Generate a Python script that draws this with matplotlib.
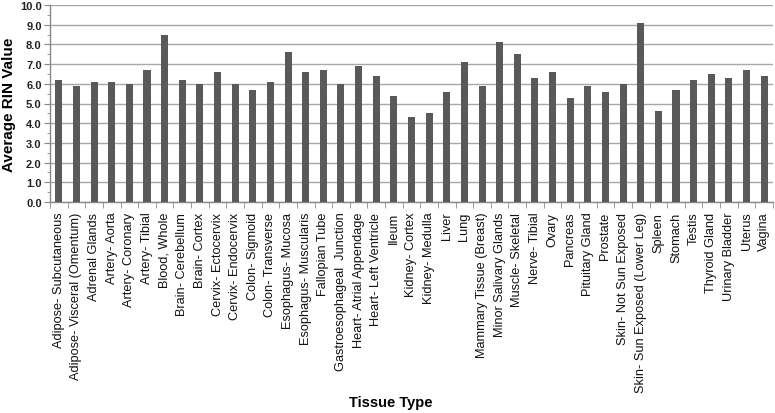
import matplotlib
matplotlib.use("Agg")
import matplotlib.pyplot as plt
from matplotlib.ticker import MultipleLocator, FixedLocator, NullFormatter
import numpy as np

tissues = [
    "Adipose- Subcutaneous", "Adipose- Visceral (Omentum)", "Adrenal Glands",
    "Artery- Aorta", "Artery- Coronary", "Artery- Tibial", "Blood, Whole",
    "Brain- Cerebellum", "Brain- Cortex", "Cervix- Ectocervix", "Cervix- Endocervix",
    "Colon- Sigmoid", "Colon- Transverse", "Esophagus- Mucosa", "Esophagus- Muscularis",
    "Fallopian Tube", "Gastroesophageal  Junction", "Heart- Atrial Appendage",
    "Heart- Left Ventricle", "Ileum", "Kidney- Cortex", "Kidney- Medulla", "Liver",
    "Lung", "Mammary Tissue (Breast)", "Minor Salivary Glands", "Muscle- Skeletal",
    "Nerve- Tibial", "Ovary", "Pancreas", "Pituitary Gland", "Prostate",
    "Skin- Not Sun Exposed", "Skin- Sun Exposed (Lower Leg)", "Spleen", "Stomach",
    "Testis", "Thyroid Gland", "Urinary Bladder", "Uterus", "Vagina",
]
rin_values = [
    6.2, 5.9, 6.1, 6.1, 6.0, 6.7, 8.5, 6.2, 6.0, 6.6, 6.0, 5.7, 6.1, 7.6, 6.6,
    6.7, 6.0, 6.9, 6.4, 5.4, 4.3, 4.5, 5.6, 7.1, 5.9, 8.1, 7.5, 6.3, 6.6, 5.3,
    5.9, 5.6, 6.0, 9.1, 4.6, 5.7, 6.2, 6.5, 6.3, 6.7, 6.4,
]
y_ticks = [0.0, 1.0, 2.0, 3.0, 4.0, 5.0, 6.0, 7.0, 8.0, 9.0, 10.0]

plt.rcParams['font.family'] = ['Liberation Sans', 'DejaVu Sans']

fig = plt.figure(figsize=(7.75, 4.14), dpi=100)
ax = fig.add_axes([50/775, 1 - 203/414, (773-50)/775, (203-6)/414])

x = np.arange(len(tissues))
ax.bar(x, rin_values, width=0.4, color="#595959", zorder=3)

ax.set_xlim(-0.5, len(tissues) - 0.5)
ax.set_ylim(0, 10)
ax.set_yticks(y_ticks)
ax.set_yticklabels([f"{v:.1f}" for v in y_ticks], fontsize=8, fontweight="bold", color="#222222")
ax.yaxis.set_minor_locator(MultipleLocator(0.5))
ax.yaxis.grid(True, which="major", color="#a8a8a8", linewidth=1.0, zorder=0)
ax.tick_params(axis="y", which="major", length=4, color="#888888", pad=2)
ax.tick_params(axis="y", which="minor", length=2, color="#888888")

ax.set_xticks(x)
ax.set_xticklabels(tissues, rotation=90, fontsize=9.2, color="#111111")
ax.tick_params(axis="x", which="major", length=0, pad=7)
ax.xaxis.set_minor_locator(FixedLocator(np.arange(-0.5, len(tissues), 1.0)))
ax.xaxis.set_minor_formatter(NullFormatter())
ax.tick_params(axis="x", which="minor", length=4, color="#888888", direction="out")

for s in ["top", "right"]:
    ax.spines[s].set_visible(False)
for s in ["left", "bottom"]:
    ax.spines[s].set_color("#888888")
    ax.spines[s].set_linewidth(1.0)

ax.set_ylabel("Average RIN Value", fontsize=11, fontweight="bold")
ax.yaxis.set_label_coords((16 - 50) / 723, 0.5)
fig.text(391/775, 1 - 403/414, "Tissue Type", fontsize=10.5, fontweight="bold",
         ha="center", va="center")

fig.savefig("out.png", dpi=100)
